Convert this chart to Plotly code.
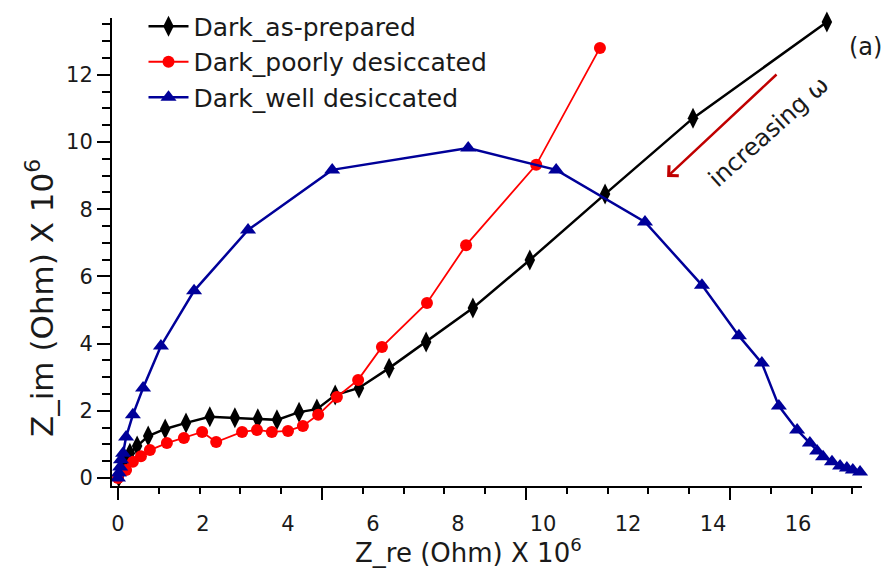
import plotly.graph_objects as go

# ---------------- data (Z_re, Z_im in units of 10^6 Ohm) ----------------
asprep_re = [0.02, 0.07, 0.16, 0.28, 0.45, 0.71, 1.11, 1.60, 2.16, 2.75, 3.29, 3.74,
             4.26, 4.68, 5.11, 5.67, 6.38, 7.25, 8.35, 9.69, 11.46, 13.53, 16.68]
asprep_im = [0.03, 0.30, 0.54, 0.74, 0.95, 1.25, 1.46, 1.64, 1.82, 1.79, 1.76, 1.73,
             1.96, 2.05, 2.47, 2.68, 3.27, 4.05, 5.06, 6.49, 8.45, 10.71, 13.57]

poor_re = [0.00, 0.19, 0.35, 0.54, 0.75, 1.15, 1.55, 1.98, 2.31, 2.92, 3.27, 3.62,
           4.00, 4.35, 4.71, 5.15, 5.65, 6.21, 7.27, 8.19, 9.84, 11.34]
poor_im = [0.00, 0.24, 0.48, 0.65, 0.83, 1.04, 1.19, 1.37, 1.07, 1.37, 1.43, 1.37,
           1.40, 1.55, 1.88, 2.41, 2.92, 3.90, 5.21, 6.93, 9.32, 12.80]

well_re = [0.00, 0.02, 0.05, 0.07, 0.12, 0.19, 0.35, 0.59, 1.01, 1.79, 3.06, 5.04,
           8.24, 10.31, 12.40, 13.74, 14.61, 15.15, 15.55, 15.98, 16.28, 16.45,
           16.59, 16.80, 16.99, 17.15, 17.29, 17.46]
well_im = [0.00, 0.15, 0.33, 0.54, 0.74, 1.22, 1.88, 2.68, 3.93, 5.57, 7.38, 9.17,
           9.82, 9.17, 7.62, 5.74, 4.23, 3.42, 2.14, 1.43, 1.04, 0.80,
           0.63, 0.48, 0.36, 0.30, 0.24, 0.18]

series_names = ["Dark_as-prepared", "Dark_poorly desiccated", "Dark_well desiccated"]
x_tick_labels = [0, 2, 4, 6, 8, 10, 12, 14, 16]
y_tick_labels = [0, 2, 4, 6, 8, 10, 12]

FONT = "DejaVu Sans, sans-serif"
TXT = "#1a1a1a"

fig = go.Figure()
fig.add_trace(go.Scatter(
    x=asprep_re, y=asprep_im, name=series_names[0], mode="lines+markers",
    line=dict(color="black", width=2.5),
    marker=dict(symbol="diamond-tall", size=15, color="black"),
    cliponaxis=False))
fig.add_trace(go.Scatter(
    x=poor_re, y=poor_im, name=series_names[1], mode="lines+markers",
    line=dict(color="#ff0000", width=1.8),
    marker=dict(symbol="circle", size=12, color="#ff0000"),
    cliponaxis=False))
fig.add_trace(go.Scatter(
    x=well_re, y=well_im, name=series_names[2], mode="lines+markers",
    line=dict(color="#000099", width=2.5),
    marker=dict(symbol="triangle-up", size=14, color="#000099"),
    cliponaxis=False))
# empty trace that carries the secondary (tick-mark only) x axis
fig.add_trace(go.Scatter(x=[None], y=[None], xaxis="x2", yaxis="y",
                         showlegend=False, hoverinfo="skip"))

fig.update_layout(
    width=887, height=572,
    margin=dict(l=112, r=25, t=18, b=86, autoexpand=False),
    paper_bgcolor="white", plot_bgcolor="white",
    font=dict(family=FONT, color=TXT),
    showlegend=True,
    legend=dict(x=0.042, y=1.031, xanchor="left", yanchor="top",
                bgcolor="rgba(0,0,0,0)", font=dict(size=25, family=FONT, color=TXT),
                tracegroupgap=0, itemwidth=40),
    xaxis=dict(range=[-0.141, 17.506], tickmode="array", tickvals=x_tick_labels,
               ticks="", showline=True, linecolor="black", linewidth=2,
               showgrid=False, zeroline=False, tickfont=dict(size=21, color=TXT),
               ticklabelstandoff=18, automargin=False),
    xaxis2=dict(overlaying="x", anchor="y", side="bottom",
                range=[-6 / 40.8, 744 / 40.8], tick0=0, dtick=5,
                ticks="outside", ticklen=13, tickwidth=2, tickcolor="black",
                minor=dict(dtick=1, ticks="outside", ticklen=7, tickwidth=2,
                           tickcolor="black"),
                showticklabels=False, showgrid=False, zeroline=False,
                showline=False, automargin=False),
    yaxis=dict(range=[-0.238, 13.69], tickmode="array", tickvals=y_tick_labels,
               ticks="outside", ticklen=13, tickwidth=2, tickcolor="black",
               minor=dict(dtick=0.5, tick0=0, ticks="outside", ticklen=8,
                          tickwidth=2, tickcolor="black"),
               showline=True, linecolor="black", linewidth=2,
               showgrid=False, zeroline=False, tickfont=dict(size=21, color=TXT),
               ticklabelstandoff=0, automargin=False),
)

# axis titles
fig.add_annotation(xref="paper", yref="paper", x=(468 - 112) / 750, y=-(551 - 486) / 468,
                   xanchor="center", yanchor="middle",
                   text="Z_re (Ohm) X 10<sup>6</sup>", showarrow=False,
                   font=dict(size=26, family=FONT, color=TXT))
fig.add_annotation(xref="paper", yref="paper", x=-(112 - 40) / 750, y=(486 - 298) / 468,
                   xanchor="center", yanchor="middle",
                   text="Z_im (Ohm) X 10<sup>6</sup>", showarrow=False, textangle=-90,
                   font=dict(size=31, family=FONT, color=TXT))

# arrow and label
fig.add_annotation(x=12.92, y=8.96, ax=15.53, ay=12.05, xref="x", yref="y",
                   axref="x", ayref="y", showarrow=True, arrowhead=4,
                   arrowsize=1.1, arrowwidth=2.5, arrowcolor="#c00000", text="")
fig.add_annotation(x=15.3, y=10.3, xref="x", yref="y", text="increasing ω",
                   xanchor="center", yanchor="middle",
                   showarrow=False, textangle=-42, font=dict(size=24, family=FONT, color=TXT))
fig.add_annotation(xref="paper", yref="paper", x=(865 - 112) / 750, y=(486 - 47) / 468,
                   xanchor="center", yanchor="middle", text="(a)",
                   showarrow=False, font=dict(size=24, family=FONT, color=TXT))

fig.write_html("out.html")
